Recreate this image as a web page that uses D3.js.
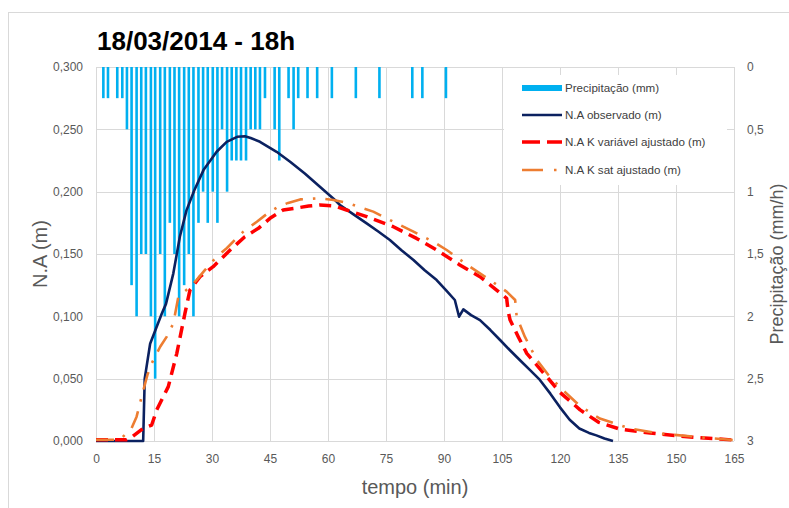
<!DOCTYPE html>
<html>
<head>
<meta charset="utf-8">
<script src="https://cdn.jsdelivr.net/npm/d3@7"></script>
<style>
  html, body { margin: 0; padding: 0; background: #fff; }
  svg { display: block; font-family: "Liberation Sans", Arial, sans-serif; }
</style>
</head>
<body>
<svg id="chart" width="789" height="508"></svg>
<script>
// Rainfall intensity (mm/h) per time step (min)
const rainTime = [1.9,3.1,5.5,6.8,8.0,9.2,10.5,11.7,12.9,14.2,15.3,16.6,17.8,19.1,20.3,21.5,22.8,24.0,25.2,26.5,27.7,28.9,30.2,31.4,32.6,33.9,35.1,36.3,37.5,38.8,40.0,41.2,42.4,43.7,46.2,47.4,49.8,51.1,52.3,54.7,57.2,61.0,67.2,73.3,81.8,84.4,90.5];
const rainValue = [0.25,0.25,0.25,0.25,0.5,1.75,2.0,1.5,1.5,2.0,2.5,1.5,2.0,1.25,1.5,2.0,1.75,1.5,2.0,1.25,1.0,1.25,1.0,1.25,0.5,1.0,0.75,0.75,0.75,0.75,0.5,0.5,0.5,0.25,0.5,0.75,0.25,0.5,0.25,0.25,0.25,0.25,0.25,0.25,0.25,0.25,0.25];

// Observed water level (m)
const obsTime = [0,12.2,12.6,14.0,17.0,18.1,20.0,21.7,23.4,25.4,27.8,31.2,33.8,36.5,38.5,40.0,42.4,46.7,50.2,54.0,57.9,61.8,63.1,66.5,70.0,73.0,76.0,79.0,82.1,85.0,88.1,90.5,92.8,93.9,95.0,97.0,99.3,102.0,104.5,107.0,109.6,112.2,114.8,117.5,120.0,122.5,125.0,127.5,129.4,131.5,133.7];
const obsValue = [0,0,0.050,0.078,0.102,0.110,0.1345,0.164,0.185,0.201,0.2173,0.232,0.240,0.244,0.2445,0.243,0.240,0.232,0.224,0.2146,0.204,0.1933,0.1893,0.182,0.1746,0.168,0.1612,0.153,0.1452,0.137,0.1291,0.121,0.1131,0.0997,0.1056,0.101,0.097,0.089,0.081,0.073,0.065,0.057,0.049,0.038,0.027,0.017,0.010,0.0065,0.0045,0.002,0];

// Fitted level, variable K (m)
const kvarTime = [0,4.0,7.9,9.2,12.2,14.4,15.7,18.7,20.9,23.0,24.3,26.9,30.3,34.7,38.5,42.0,45.0,48.4,51.5,55.0,57.9,61.8,64.8,70.0,76.9,82.9,88.1,94.1,99.3,103.6,106.2,106.6,107.1,109.2,111.4,114.0,117.0,120.0,125.2,130.0,135.5,143.3,153.7,164.8];
const kvarValue = [0.001,0.001,0.001,0.003,0.0102,0.0128,0.0249,0.0436,0.0703,0.1024,0.1211,0.1318,0.1398,0.1532,0.1639,0.1706,0.1786,0.1853,0.1867,0.1885,0.1893,0.1885,0.1853,0.180,0.1719,0.1625,0.1532,0.1412,0.1318,0.1211,0.1145,0.1038,0.097,0.0837,0.0703,0.0609,0.050,0.039,0.025,0.015,0.0095,0.0064,0.0032,0.0008];

// Fitted level, saturated K (m)
const ksatTime = [0,6.2,9.2,10.5,11.8,13.3,14.4,16.6,18.3,20.0,21.3,23.9,26.0,28.2,31.2,33.8,35.9,38.1,41.6,44.6,47.1,49.7,52.8,57.9,61.4,64.8,69.1,71.7,76.9,82.1,87.2,90.7,96.7,101.9,106.2,108.4,108.8,110.9,114.0,117.0,120.0,125.2,130.3,138.1,145.8,156.2,164.7];
const ksatValue = [0.001,0.001,0.0102,0.0195,0.0355,0.053,0.0623,0.0756,0.0837,0.0944,0.1157,0.1225,0.1291,0.1372,0.1478,0.1546,0.1612,0.1679,0.1759,0.1831,0.1879,0.191,0.1938,0.1947,0.1933,0.1912,0.1866,0.184,0.1759,0.1679,0.1599,0.1532,0.1398,0.1291,0.1198,0.1131,0.0997,0.0837,0.065,0.053,0.043,0.028,0.018,0.010,0.006,0.003,0.0008];

// Axis tick labels
const xTicks = [0,15,30,45,60,75,90,105,120,135,150,165];
const yTicks = [0,0.05,0.1,0.15,0.2,0.25,0.3];
const yRightTicks = [0,0.5,1,1.5,2,2.5,3];

const legendItems = ["Precipitação (mm)", "N.A observado (m)", "N.A K variável ajustado (m)", "N.A K sat ajustado (m)"];

const svg = d3.select("#chart");
const W = 789, H = 508;
const plot = { left: 96, right: 734, top: 67, bottom: 441 };

const x = d3.scaleLinear().domain([0, 165]).range([plot.left, plot.right]);
const y = d3.scaleLinear().domain([0, 0.3]).range([plot.bottom, plot.top]);
const yR = d3.scaleLinear().domain([0, 3]).range([plot.top, plot.bottom]);

const grid = "#d9d9d9";
const textCol = "#595959";
const colors = { rain: "#00b0f0", obs: "#0b2160", kvar: "#ff0000", ksat: "#ed7d31" };

svg.append("rect").attr("width", W).attr("height", H).attr("fill", "#fff");
svg.append("rect").attr("x", 8.5).attr("y", 12.5).attr("width", 800).attr("height", 520)
  .attr("fill", "none").attr("stroke", "#d9d9d9");

// Gridlines
svg.append("g").selectAll("line").data(yTicks).join("line")
  .attr("x1", plot.left).attr("x2", plot.right)
  .attr("y1", d => Math.round(y(d)) + 0.5).attr("y2", d => Math.round(y(d)) + 0.5)
  .attr("stroke", grid);
svg.append("g").selectAll("line").data(xTicks.slice(1)).join("line")
  .attr("x1", d => Math.round(x(d)) + 0.5).attr("x2", d => Math.round(x(d)) + 0.5)
  .attr("y1", plot.top).attr("y2", plot.bottom)
  .attr("stroke", grid);
svg.append("line").attr("x1", plot.left + 0.5).attr("x2", plot.left + 0.5)
  .attr("y1", plot.top).attr("y2", plot.bottom).attr("stroke", grid);

// Axes (labels only, no domain paths)
const axB = svg.append("g").attr("transform", `translate(0,${plot.bottom})`)
  .call(d3.axisBottom(x).tickValues(xTicks).tickSize(0).tickPadding(13).tickFormat(d3.format("d")));
const fmtY = v => d3.format(".3f")(v).replace(".", ",");
const axL = svg.append("g").attr("transform", `translate(${plot.left},0)`)
  .call(d3.axisLeft(y).tickValues(yTicks).tickSize(0).tickPadding(13).tickFormat(fmtY));
const axR = svg.append("g").attr("transform", `translate(${plot.right},0)`)
  .call(d3.axisRight(yR).tickValues(yRightTicks).tickSize(0).tickPadding(13)
    .tickFormat(v => String(v).replace(".", ",")));
[axB, axL, axR].forEach(g => {
  g.select(".domain").remove();
  g.selectAll("text").attr("fill", textCol).style("font-size", "12px")
    .style("font-family", "'Liberation Sans', Arial, sans-serif");
});

// Rain bars hanging from the top
svg.append("g").selectAll("rect").data(rainTime.map((t, i) => ({ t, v: rainValue[i] }))).join("rect")
  .attr("x", d => x(d.t) - 1.3).attr("width", 2.6)
  .attr("y", yR(0)).attr("height", d => yR(d.v) - yR(0))
  .attr("fill", colors.rain);

// Lines
const line = d3.line().x(d => x(d[0])).y(d => y(d[1]));
const pairs = (ts, vs) => ts.map((t, i) => [t, vs[i]]);
svg.append("path").attr("d", line(pairs(obsTime, obsValue)))
  .attr("fill", "none").attr("stroke", colors.obs).attr("stroke-width", 2.6)
  .attr("stroke-linejoin", "round");
svg.append("path").attr("d", line(pairs(kvarTime, kvarValue)))
  .attr("fill", "none").attr("stroke", colors.kvar).attr("stroke-width", 3.5)
  .attr("stroke-dasharray", "12,7").attr("stroke-linejoin", "round");
svg.append("path").attr("d", line(pairs(ksatTime, ksatValue)))
  .attr("fill", "none").attr("stroke", colors.ksat).attr("stroke-width", 2.6)
  .attr("stroke-dasharray", "18,10,2.5,10").attr("stroke-linejoin", "round");

// Legend
const lg = svg.append("g");
lg.append("rect").attr("x", 504).attr("y", 75).attr("width", 223).attr("height", 110).attr("fill", "#fff");
const rows = [88, 115, 142, 170];
lg.append("rect").attr("x", 522).attr("y", rows[0] - 3).attr("width", 40).attr("height", 6).attr("fill", colors.rain);
lg.append("line").attr("x1", 522).attr("x2", 562).attr("y1", rows[1]).attr("y2", rows[1])
  .attr("stroke", colors.obs).attr("stroke-width", 2.6);
lg.append("line").attr("x1", 522).attr("x2", 562).attr("y1", rows[2]).attr("y2", rows[2])
  .attr("stroke", colors.kvar).attr("stroke-width", 3.5).attr("stroke-dasharray", "18,7");
lg.append("line").attr("x1", 522).attr("x2", 562).attr("y1", rows[3]).attr("y2", rows[3])
  .attr("stroke", colors.ksat).attr("stroke-width", 2.6).attr("stroke-dasharray", "21,11,2.5,11");
lg.selectAll("text").data(legendItems).join("text")
  .attr("x", 565).attr("y", (d, i) => rows[i] + 4)
  .attr("fill", "#404040").style("font-size", "11.6px").text(d => d);

// Titles
svg.append("text").attr("x", 97).attr("y", 50).attr("fill", "#000")
  .style("font-size", "26px").style("font-weight", "bold").text("18/03/2014 - 18h");
svg.append("text").attr("x", (plot.left + plot.right) / 2).attr("y", 494).attr("text-anchor", "middle")
  .attr("fill", textCol).style("font-size", "20px").text("tempo (min)");
svg.append("text").attr("transform", `translate(47,${(plot.top + plot.bottom) / 2}) rotate(-90)`)
  .attr("text-anchor", "middle").attr("fill", textCol).style("font-size", "20px").text("N.A (m)");
svg.append("text").attr("transform", `translate(783,${(plot.top + plot.bottom) / 2 + 10}) rotate(-90)`)
  .attr("text-anchor", "middle").attr("fill", textCol).style("font-size", "18px").text("Precipitação (mm/h)");
</script>
</body>
</html>
